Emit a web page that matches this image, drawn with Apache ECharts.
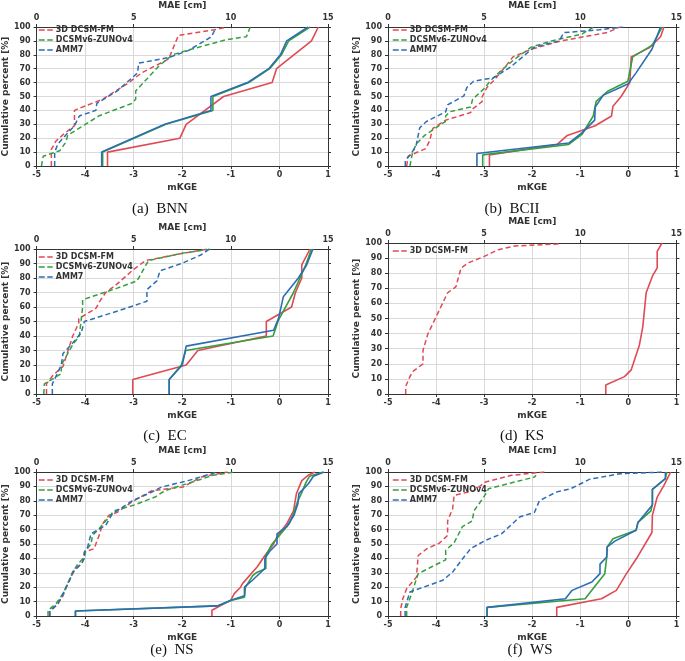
<!DOCTYPE html>
<html>
<head>
<meta charset="utf-8">
<script src="https://cdn.jsdelivr.net/npm/echarts@6/dist/echarts.min.js"></script>
<style>
  html, body { margin: 0; padding: 0; background: #fff; }
  #chart { width: 685px; height: 661px; }
</style>
</head>
<body>
<div id="chart"></div>
<script>
// model names and panel captions
const models = ['3D DCSM-FM', 'DCSMv6-ZUNOv4', 'AMM7'];
const captions = ['(a)  BNN', '(b)  BCII', '(c)  EC', '(d)  KS', '(e)  NS', '(f)  WS'];
const mkgeTicks = [-5, -4, -3, -2, -1, 0, 1];
const maeTicks = [0, 5, 10, 15];
const pctTicks = [0, 10, 20, 30, 40, 50, 60, 70, 80, 90, 100];

// (a) BNN  -- [value, cumulative percent]
const bnnMkgeFm = [[-3.54,0],[-3.54,10],[-2.05,20],[-1.92,30],[-1.15,50],[-0.15,60],[-0.06,70],[0.66,90],[0.80,100]];
const bnnMkgeZuno = [[-3.64,0],[-3.64,10],[-2.34,30],[-1.37,40],[-1.37,50],[-0.63,60],[-0.2,70],[0.04,80],[0.19,90],[0.63,100]];
const bnnMkgeAmm = [[-3.66,0],[-3.66,10],[-2.36,30],[-1.41,40],[-1.41,50],[-0.66,60],[-0.22,70],[0.02,80],[0.15,90],[0.59,100]];
const bnnMaeFm = [[0.76,0],[0.76,12],[1.0,18],[1.4,23],[1.95,29],[1.95,40],[2.29,42],[3.4,48],[4.75,60],[5.4,67],[6.8,77],[7.3,94],[9.15,98],[9.8,100]];
const bnnMaeZuno = [[0.25,0],[0.34,7],[1.19,11],[1.5,17],[1.6,22],[3.2,36],[4.9,45],[5.1,48],[5.1,54],[6.3,72],[7.0,80],[7.7,83],[9.8,91],[10.8,93],[11.0,100]];
const bnnMaeAmm = [[0.93,0],[0.93,10],[1.1,16],[1.95,29],[2.2,36],[3.05,40],[3.1,45],[4.15,54],[5.2,67],[5.25,74],[6.8,78],[7.8,83],[9.0,93],[9.25,100]];

// (b) BCII
const bciiMkgeFm = [[-2.89,0],[-2.89,8],[-1.48,15.5],[-1.27,22],[-0.69,29],[-0.35,36],[-0.32,43],[-0.15,50],[0.03,60],[0.06,78.5],[0.43,85],[0.67,93],[0.74,100]];
const bciiMkgeZuno = [[-3.03,0],[-3.03,8],[-1.24,15.5],[-0.96,23],[-0.73,36],[-0.67,46.5],[-0.42,54],[-0.01,61],[0.09,78.5],[0.5,87],[0.7,100]];
const bciiMkgeAmm = [[-3.15,0],[-3.15,9],[-1.24,16.5],[-0.96,24],[-0.7,33],[-0.69,42.5],[-0.52,51],[-0.01,59],[0.16,67],[0.49,84],[0.67,100]];
const bciiMaeFm = [[0.97,0],[1.05,7],[1.96,12.5],[2.16,18],[2.33,27],[3.0,33],[4.3,38.5],[4.4,41],[4.9,46.5],[4.9,50],[5.15,56.5],[5.6,63],[6.1,71.5],[6.5,78.5],[7.45,84],[9.0,90],[11.4,96],[12.05,100]];
const bciiMaeZuno = [[1.14,0],[1.28,10],[1.48,16],[1.9,22],[2.98,32],[3.0,36],[3.2,39],[4.3,42.5],[4.4,48],[5.06,56.5],[5.3,61],[5.9,69],[6.6,77],[7.45,85.5],[8.5,90],[10.1,95],[10.7,100]];
const bciiMaeAmm = [[0.9,0],[0.9,4],[1.2,9],[1.45,14],[1.65,27.5],[2.0,32],[3.0,39],[3.1,44],[3.95,50.5],[4.1,56.5],[4.45,61],[5.5,63.5],[6.4,71.5],[7.6,85.5],[8.9,90],[9.15,96],[11.0,98],[12.2,100]];

// (c) EC
const ecMkgeFm = [[-3.02,0],[-3.02,10],[-1.92,20],[-1.68,30],[-0.27,40],[-0.27,50],[0.25,60],[0.33,70],[0.46,80],[0.46,89],[0.63,100]];
const ecMkgeZuno = [[-2.27,0],[-2.27,10],[-2.02,20],[-1.93,30],[-0.13,40],[-0.02,51],[0.29,70],[0.53,88],[0.66,100]];
const ecMkgeAmm = [[-2.27,0],[-2.27,10],[-2.0,20],[-1.92,33],[-0.12,44],[-0.02,52],[0.08,67],[0.39,80],[0.56,89],[0.69,100]];
const ecMaeFm = [[0.51,0],[0.51,7],[0.85,13],[1.36,19],[1.55,27],[1.86,40],[2.17,49],[2.17,52],[3.05,59],[3.3,65],[3.56,70],[4.07,75],[5.0,86],[5.6,92],[7.54,97],[8.8,100]];
const ecMaeZuno = [[0.37,0],[0.4,7],[1.27,14],[1.27,20],[1.86,34],[2.2,40],[2.37,60],[2.37,65],[4.15,73],[5.17,78],[5.76,92],[7.46,97],[9.0,100]];
const ecMaeAmm = [[0.81,0],[0.81,7],[1.1,15],[1.27,20],[1.36,28],[1.78,34],[2.29,42],[2.46,50],[4.58,59],[5.68,64],[5.68,72],[6.19,78],[6.36,85],[7.46,90],[8.47,96],[8.9,100]];

// (d) KS
const ksMkgeFm = [[-0.47,0],[-0.47,6],[-0.08,11.5],[0.06,16],[0.23,32.5],[0.3,44.5],[0.37,67],[0.5,78],[0.6,83.5],[0.6,94.5],[0.7,100]];
const ksMaeFm = [[0.92,0],[0.92,5],[1.14,11.5],[1.3,15],[1.82,20],[1.82,29],[2.08,40],[2.5,51],[2.76,58],[3.1,67],[3.53,71],[3.8,83.5],[4.2,87],[4.98,91],[5.74,95.6],[6.6,98],[8.8,99.3],[9.0,100]];

// (e) NS
const nsMkgeFm = [[-1.39,0],[-1.39,4],[-1.0,11],[-0.93,15.5],[-0.8,20],[-0.76,22.5],[-0.46,34],[-0.32,41],[-0.12,50],[-0.05,55],[0.15,64],[0.29,73],[0.35,85],[0.46,94],[0.59,97.7],[0.73,100]];
const nsMkgeZuno = [[-4.2,0],[-4.2,3.5],[-1.27,7],[-0.98,11],[-0.72,13],[-0.7,20],[-0.55,28],[-0.48,30],[-0.28,33],[-0.28,42],[-0.15,50],[0.0,56],[0.2,64],[0.3,72],[0.38,80],[0.45,85],[0.55,93],[0.62,97],[0.9,100]];
const nsMkgeAmm = [[-4.2,0],[-4.2,3.5],[-1.28,7],[-1.0,11],[-0.72,14],[-0.72,20],[-0.55,25],[-0.3,33],[-0.3,40],[-0.2,45],[-0.05,50],[-0.05,57],[0.15,62],[0.3,70],[0.38,78],[0.4,85],[0.6,92],[0.7,97],[0.92,100]];
const nsMaeFm = [[0.68,0],[0.68,4],[1.1,8.5],[1.36,14],[1.6,22.5],[1.95,31.7],[2.37,37.5],[2.46,44.4],[2.97,46.8],[3.05,50],[3.22,56],[3.4,64],[3.73,70],[4.15,72],[5.0,80],[5.93,87],[6.78,88.4],[7.54,89.6],[8.47,96.5],[9.83,100]];
const nsMaeZuno = [[0.59,0],[0.59,4],[1.0,8.5],[1.36,15.5],[1.6,22.5],[1.86,30.5],[2.12,36],[2.46,41],[2.54,45.6],[2.8,50],[2.88,56],[3.22,60.6],[3.73,68.8],[3.98,73],[5.0,77],[6.1,82.6],[6.6,87],[8.47,95],[9.07,97.7],[10.17,100]];
const nsMaeAmm = [[0.68,0],[0.68,3],[1.1,8.5],[1.36,15.5],[1.7,24.8],[1.86,30.5],[2.29,36],[2.46,40],[2.46,44.4],[2.63,48],[2.8,57],[3.56,63],[3.9,71],[4.92,80],[5.76,85],[6.44,89.6],[7.8,94],[9.3,100]];

// (f) WS
const wsMkgeFm = [[-1.49,0],[-1.49,6],[-0.56,12],[-0.25,17.8],[-0.04,29.4],[0.19,41],[0.49,58],[0.5,70],[0.6,82.6],[0.74,90.7],[0.88,100]];
const wsMkgeZuno = [[-2.94,0],[-2.94,6],[-0.9,12],[-0.49,29.4],[-0.45,41],[-0.44,48],[-0.32,53.7],[0.16,59.5],[0.2,65],[0.47,73],[0.5,78],[0.5,88],[0.77,95.4],[0.8,100]];
const wsMkgeAmm = [[-2.94,0],[-2.94,6],[-1.31,12],[-1.17,17.8],[-0.76,23.6],[-0.59,29.4],[-0.59,36],[-0.45,41],[-0.44,48],[-0.28,52],[0.16,59.5],[0.2,65],[0.5,77],[0.5,88],[0.77,95.4],[0.77,100]];
const wsMaeFm = [[0.66,0],[0.66,5],[0.77,12],[0.97,19],[1.48,27],[1.57,42],[2.03,46.8],[2.68,50.7],[3.1,56],[3.1,66],[3.36,74.5],[3.44,83.8],[4.47,87],[5.06,93],[6.43,97.7],[8.13,100]];
const wsMaeZuno = [[0.97,0],[0.97,6],[1.23,15.5],[1.57,29.4],[2.25,34],[3.0,39],[3.0,45.6],[3.44,51],[3.87,62],[4.38,66],[4.47,73],[4.98,82.6],[5.23,88.4],[7.62,96.5],[7.7,97.7]];
const wsMaeAmm = [[0.89,0],[0.89,6],[1.14,16.7],[2.85,24.8],[3.36,30.5],[3.95,41],[4.3,46.8],[5.06,52.5],[5.9,57],[6.85,68.8],[7.62,72],[7.87,80],[8.73,86],[9.5,88.4],[10.5,95],[12.05,98.8],[14.35,100]];

const panelData = [
  { mkge: [bnnMkgeFm, bnnMkgeZuno, bnnMkgeAmm], mae: [bnnMaeFm, bnnMaeZuno, bnnMaeAmm] },
  { mkge: [bciiMkgeFm, bciiMkgeZuno, bciiMkgeAmm], mae: [bciiMaeFm, bciiMaeZuno, bciiMaeAmm] },
  { mkge: [ecMkgeFm, ecMkgeZuno, ecMkgeAmm], mae: [ecMaeFm, ecMaeZuno, ecMaeAmm] },
  { mkge: [ksMkgeFm], mae: [ksMaeFm] },
  { mkge: [nsMkgeFm, nsMkgeZuno, nsMkgeAmm], mae: [nsMaeFm, nsMaeZuno, nsMaeAmm] },
  { mkge: [wsMkgeFm, wsMkgeZuno, wsMkgeAmm], mae: [wsMaeFm, wsMaeZuno, wsMaeAmm] }
];

// layout
const colors = ['#e04a55', '#34a03c', '#2c6db5'];
const dash = [5, 3];
const boxes = [
  { l: 34, t: 22, w: 294, h: 144 },
  { l: 388, t: 22, w: 293, h: 144 },
  { l: 34, t: 249, w: 294, h: 145 },
  { l: 388, t: 243, w: 293, h: 151 },
  { l: 34, t: 472, w: 294, h: 144 },
  { l: 388, t: 472, w: 293, h: 144 }
];
const capPos = [[160, 202], [512, 202], [165, 429], [522, 429], [172, 643], [530, 643]];

const font = 'DejaVu Sans';
const tickLabel = { fontFamily: font, fontWeight: 'bold', fontSize: 8, color: '#333' };
const nameStyle = { fontFamily: font, fontWeight: 'bold', fontSize: 9, color: '#333' };
const spine = { show: true, onZero: false, lineStyle: { color: '#333', width: 1 } };
const grid = [], xAxis = [], yAxis = [], legend = [], title = [], dashed = [], solid = [];

boxes.forEach((b, i) => {
  grid.push({ left: b.l, top: b.t, width: b.w, height: b.h, containLabel: false });
  xAxis.push({
    gridIndex: i, type: 'value', position: 'bottom', min: mkgeTicks[0], max: mkgeTicks[mkgeTicks.length - 1], interval: 1,
    name: 'mKGE', nameLocation: 'middle', nameGap: 17, nameTextStyle: nameStyle,
    axisLine: spine, axisTick: { show: true, length: 3, lineStyle: { color: '#333' } },
    axisLabel: Object.assign({ margin: 5 }, tickLabel),
    splitLine: { show: true, lineStyle: { color: '#d9d9d9', width: 1 } }
  });
  xAxis.push({
    gridIndex: i, type: 'value', position: 'top', min: maeTicks[0], max: maeTicks[maeTicks.length - 1], interval: 5,
    name: 'MAE [cm]', nameLocation: 'middle', nameGap: 17, nameTextStyle: nameStyle,
    axisLine: spine, axisTick: { show: true, length: 3, lineStyle: { color: '#333' } },
    axisLabel: Object.assign({ margin: 5 }, tickLabel),
    splitLine: { show: false }
  });
  yAxis.push({
    gridIndex: i, type: 'value', position: 'left', min: pctTicks[0], max: pctTicks[pctTicks.length - 1], interval: 10,
    name: 'Cumulative percent [%]', nameLocation: 'middle', nameGap: 24, nameTextStyle: nameStyle,
    axisLine: spine, axisTick: { show: true, length: 3, lineStyle: { color: '#333' } },
    axisLabel: Object.assign({ margin: 6 }, tickLabel),
    splitLine: { show: true, lineStyle: { color: '#d9d9d9', width: 1.2 } }
  });
  yAxis.push({
    gridIndex: i, type: 'value', position: 'right', min: pctTicks[0], max: pctTicks[pctTicks.length - 1], interval: 10,
    axisLine: spine, axisTick: { show: true, length: 3, lineStyle: { color: '#333' } },
    axisLabel: { show: false }, splitLine: { show: false }
  });

  const d = panelData[i];
  d.mae.forEach((arr, m) => {
    dashed.push({
      name: models[m], type: 'line', xAxisIndex: 2 * i + 1, yAxisIndex: 2 * i, data: arr,
      symbol: 'none', silent: true, color: colors[m],
      lineStyle: { color: colors[m], width: 1.5, type: dash }
    });
  });
  d.mkge.forEach((arr, m) => {
    solid.push({
      name: models[m], type: 'line', xAxisIndex: 2 * i, yAxisIndex: 2 * i, data: arr,
      symbol: 'none', silent: true, color: colors[m],
      lineStyle: { color: colors[m], width: 1.6 }
    });
  });

  legend.push({
    orient: 'vertical', left: b.l + 4, top: b.t + 4, padding: 0,
    itemWidth: 14, itemHeight: 6, itemGap: 2,
    data: models.slice(0, d.mae.length).map((n, m) => ({
      name: n,
      itemStyle: { opacity: 0 },
      lineStyle: { color: colors[m], width: 1.5, type: [6, 2.5] }
    })),
    textStyle: { fontFamily: font, fontWeight: 'bold', fontSize: 8, color: '#333', padding: [0, 0, 0, -2] }
  });

  title.push({
    text: captions[i], left: capPos[i][0], top: capPos[i][1], textAlign: 'center', padding: 0,
    textStyle: { fontFamily: 'Liberation Serif', fontWeight: 'normal', fontSize: 15, color: '#111' }
  });
});

const chart = echarts.init(document.getElementById('chart'), null, { renderer: 'canvas' });
chart.setOption({
  animation: false,
  backgroundColor: '#fff',
  title: title,
  legend: legend,
  grid: grid,
  xAxis: xAxis,
  yAxis: yAxis,
  series: dashed.concat(solid)
});
</script>
</body>
</html>
